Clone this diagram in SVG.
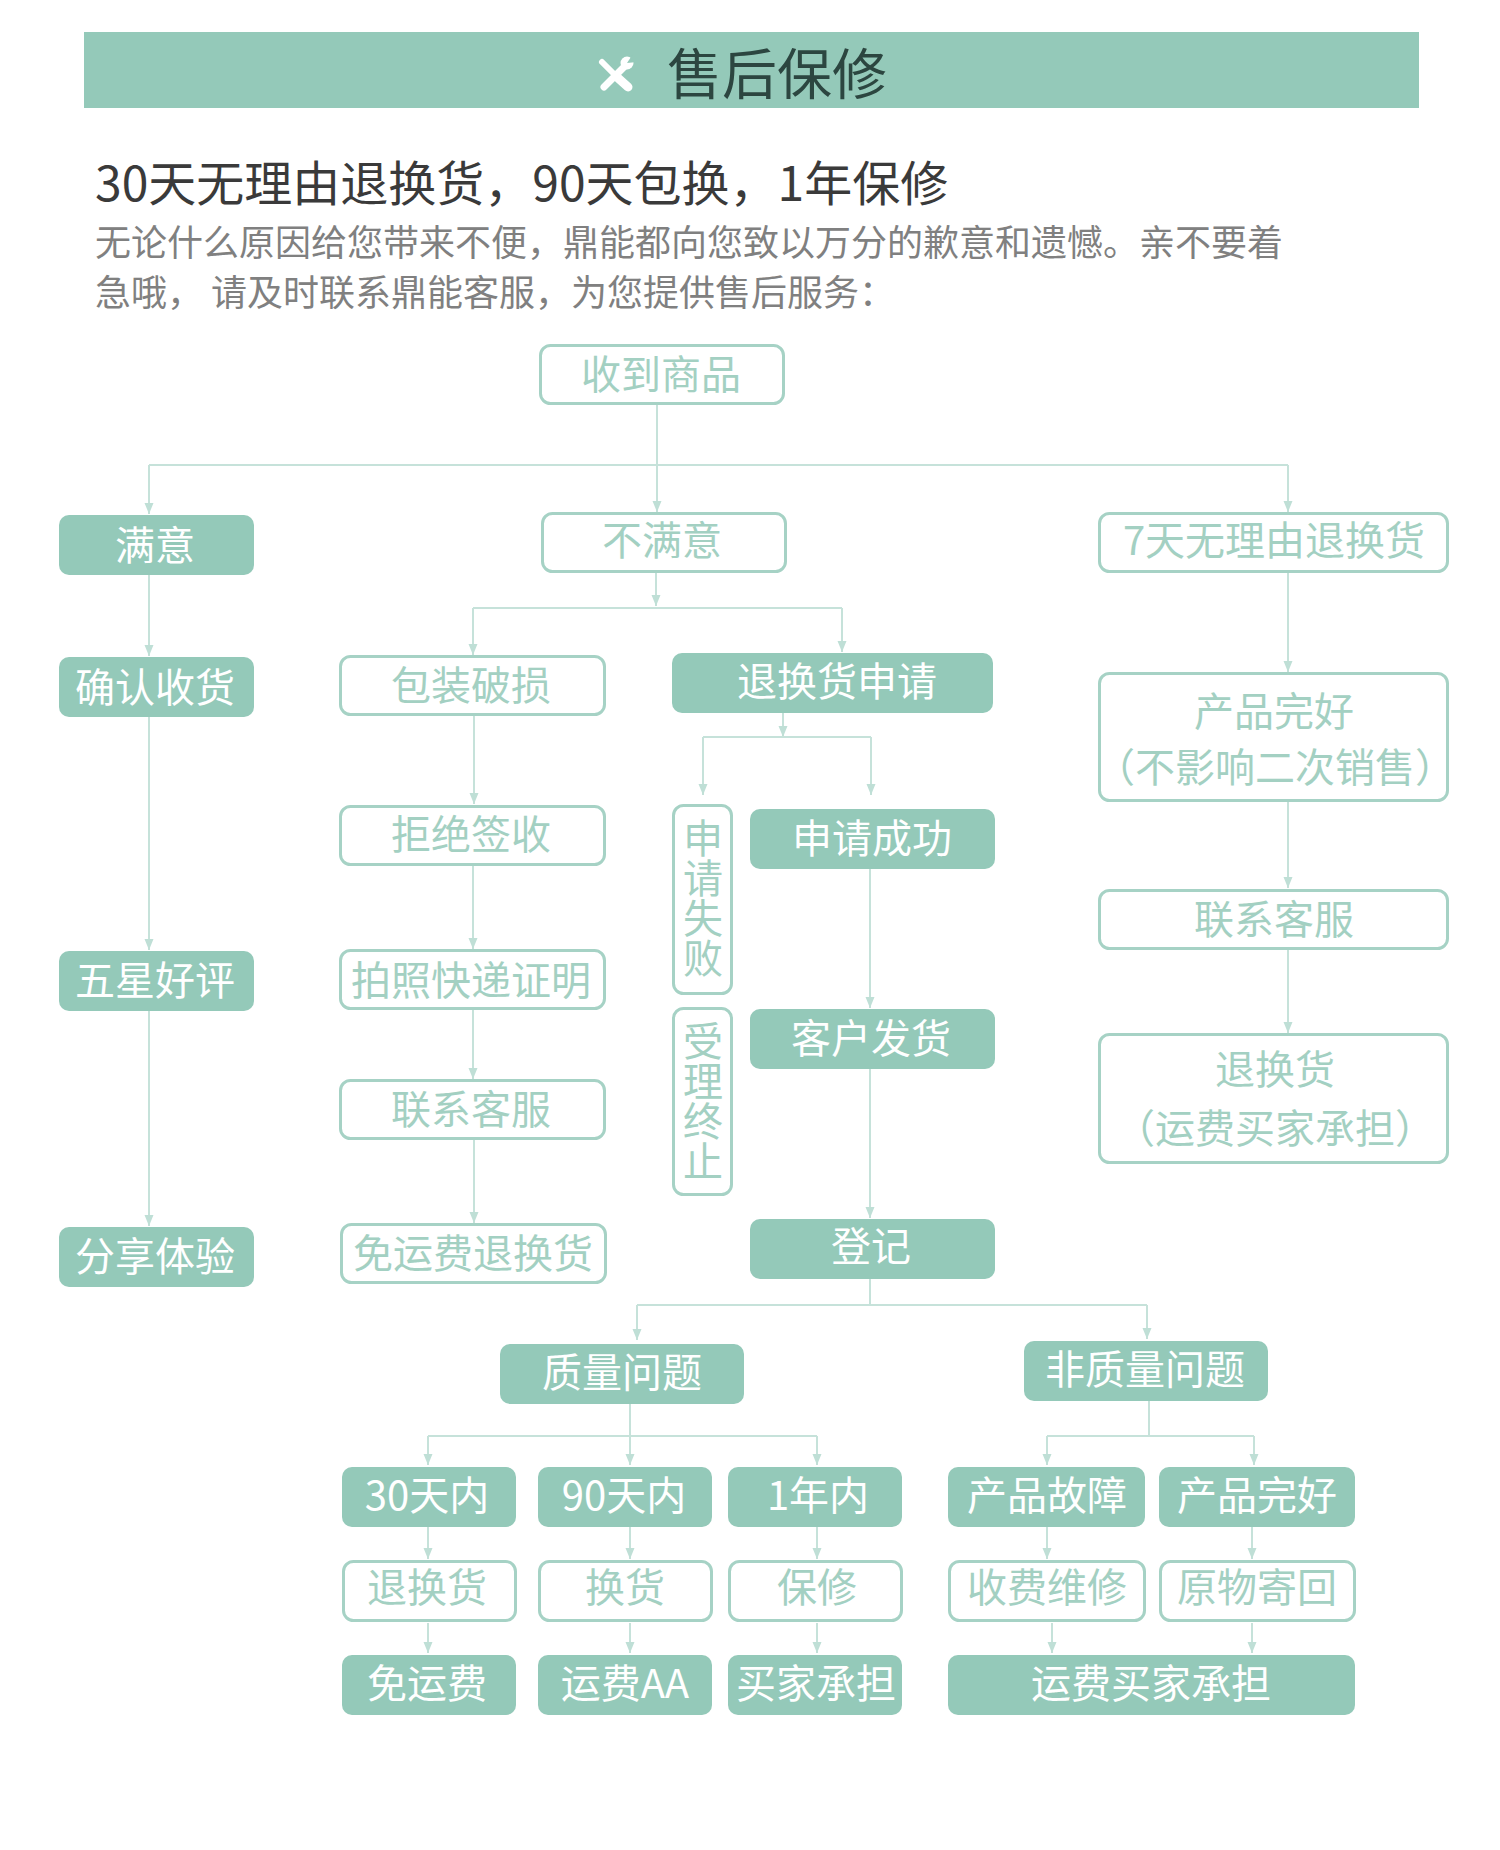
<svg xmlns="http://www.w3.org/2000/svg" width="1500" height="1850" viewBox="0 0 1500 1850">
<style>
text{font-family:"Noto Sans CJK SC","Noto Sans",sans-serif;text-anchor:middle;dominant-baseline:central}
.f{fill:#94c9b9}
.o{fill:#fff;stroke:#a6d2c5;stroke-width:3}
.tf{font-size:40px;fill:#fff;transform:translateY(-2px)}
.to{font-size:40px;fill:#a3d0c2;transform:translateY(-2px)}
.v{writing-mode:vertical-rl;transform:none}
.c{fill:none;stroke:#c6e2da;stroke-width:2}
.a{marker-end:url(#arr)}
.l{text-anchor:start;dominant-baseline:auto}
</style>
<defs>
<marker id="arr" markerUnits="userSpaceOnUse" markerWidth="11" markerHeight="10" refX="11" refY="5" orient="auto" viewBox="0 0 11 10"><path d="M0 0.500L11 5L0 9.500Z" fill="#bfdfd6"/></marker>
</defs>
<rect width="1500" height="1850" fill="#fff"/>
<g id="banner">
<rect x="84" y="32" width="1335" height="76" fill="#94c9b9"/>
<g fill="none" stroke="#fff" stroke-linecap="round">
<path d="M602 62L616 76" stroke-width="6"/>
<path d="M618 78L628 87" stroke-width="9"/>
<path d="M604 87L625 66" stroke-width="7"/>
</g>
<circle cx="627" cy="63" r="6.500" fill="#fff"/>
<path d="M627 63L633 54L637 62Z" fill="#94c9b9"/>
<text x="777" y="70" font-size="55" fill="#2c4640">售后保修</text>
</g>
<g id="intro">
<text class="l" x="95" y="201" font-size="48" fill="#3a3a3a">30天无理由退换货，90天包换，1年保修</text>
<text class="l" x="95" y="256" font-size="36" fill="#808080">无论什么原因给您带来不便，鼎能都向您致以万分的歉意和遗憾。亲不要着</text>
<text class="l" x="95" y="306" font-size="36" fill="#808080" xml:space="preserve">急哦， 请及时联系鼎能客服，为您提供售后服务：</text>
</g>
<g id="connectors">
<path class="c" d="M657 403V465M149 465H1288"/>
<path class="c a" d="M149 465V514"/>
<path class="c a" d="M657 465V512"/>
<path class="c a" d="M1288 465V512"/>
<path class="c a" d="M149 575V656"/>
<path class="c a" d="M149 716V950"/>
<path class="c a" d="M149 1011V1226"/>
<path class="c a" d="M656 572V606"/>
<path class="c" d="M473 608H842"/>
<path class="c a" d="M473 608V655"/>
<path class="c a" d="M842 608V652"/>
<path class="c a" d="M474 714V804"/>
<path class="c a" d="M473 864V949"/>
<path class="c a" d="M473 1009V1079"/>
<path class="c a" d="M474 1138V1223"/>
<path class="c a" d="M783 713V737"/>
<path class="c" d="M703 737H871"/>
<path class="c a" d="M703 737V795"/>
<path class="c a" d="M871 737V795"/>
<path class="c a" d="M870 869V1008"/>
<path class="c a" d="M870 1069V1218"/>
<path class="c" d="M870 1279V1305M637 1305H1147"/>
<path class="c a" d="M637 1305V1340"/>
<path class="c a" d="M1147 1305V1339"/>
<path class="c a" d="M1288 572V672"/>
<path class="c a" d="M1288 800V888"/>
<path class="c a" d="M1288 948V1033"/>
<path class="c" d="M630 1404V1436M428 1436H817"/>
<path class="c a" d="M428 1436V1465"/>
<path class="c a" d="M630 1436V1465"/>
<path class="c a" d="M817 1436V1465"/>
<path class="c a" d="M428 1527V1559"/>
<path class="c a" d="M630 1527V1559"/>
<path class="c a" d="M817 1527V1559"/>
<path class="c a" d="M428 1623V1653"/>
<path class="c a" d="M630 1623V1653"/>
<path class="c a" d="M817 1623V1653"/>
<path class="c" d="M1149 1401V1436M1047 1436H1254"/>
<path class="c a" d="M1047 1436V1465"/>
<path class="c a" d="M1254 1436V1465"/>
<path class="c a" d="M1047 1527V1559"/>
<path class="c a" d="M1252 1527V1559"/>
<path class="c a" d="M1052 1623V1653"/>
<path class="c a" d="M1252 1623V1653"/>
</g>
<g id="n1"><rect class="o" x="540.500" y="345.500" width="243" height="58" rx="10"/><text class="to" x="661" y="374">收到商品</text></g>
<g id="n2"><rect class="f" x="59" y="515" width="195" height="60" rx="10"/><text class="tf" x="155" y="545">满意</text></g>
<g id="n3"><rect class="o" x="542.500" y="513.500" width="243" height="58" rx="10"/><text class="to" x="662" y="540">不满意</text></g>
<g id="n4"><rect class="o" x="1099.500" y="513.500" width="348" height="58" rx="10"/><text class="to" x="1274" y="540">7天无理由退换货</text></g>
<g id="n5"><rect class="f" x="59" y="657" width="195" height="60" rx="10"/><text class="tf" x="155" y="687">确认收货</text></g>
<g id="n6"><rect class="o" x="340.500" y="656.500" width="264" height="58" rx="10"/><text class="to" x="471" y="685">包装破损</text></g>
<g id="n7"><rect class="f" x="672" y="653" width="321" height="60" rx="10"/><text class="tf" x="837" y="681">退换货申请</text></g>
<g id="n8"><rect class="o" x="1099.500" y="673.500" width="348" height="127" rx="10"/><text class="to" x="1274" y="711">产品完好</text><text class="to" x="1275" y="767">（不影响二次销售）</text></g>
<g id="n9"><rect class="o" x="340.500" y="806.500" width="264" height="58" rx="10"/><text class="to" x="471" y="834">拒绝签收</text></g>
<g id="n10"><rect class="o" x="673.500" y="805.500" width="58" height="188" rx="10"/><text class="to v" x="703" y="898">申请失败</text></g>
<g id="n11"><rect class="f" x="750" y="809" width="245" height="60" rx="10"/><text class="tf" x="872" y="838">申请成功</text></g>
<g id="n12"><rect class="f" x="59" y="951" width="195" height="60" rx="10"/><text class="tf" x="155" y="980">五星好评</text></g>
<g id="n13"><rect class="o" x="340.500" y="950.500" width="264" height="58" rx="10"/><text class="to" x="471" y="980">拍照快递证明</text></g>
<g id="n14"><rect class="o" x="673.500" y="1008.500" width="58" height="186" rx="10"/><text class="to v" x="703" y="1101">受理终止</text></g>
<g id="n15"><rect class="f" x="750" y="1009" width="245" height="60" rx="10"/><text class="tf" x="871" y="1038">客户发货</text></g>
<g id="n16"><rect class="o" x="1099.500" y="890.500" width="348" height="58" rx="10"/><text class="to" x="1274" y="919">联系客服</text></g>
<g id="n17"><rect class="o" x="340.500" y="1080.500" width="264" height="58" rx="10"/><text class="to" x="471" y="1109">联系客服</text></g>
<g id="n18"><rect class="o" x="1099.500" y="1034.500" width="348" height="128" rx="10"/><text class="to" x="1275" y="1069">退换货</text><text class="to" x="1275" y="1128">（运费买家承担）</text></g>
<g id="n19"><rect class="f" x="59" y="1227" width="195" height="60" rx="10"/><text class="tf" x="155" y="1256">分享体验</text></g>
<g id="n20"><rect class="o" x="341.500" y="1224.500" width="264" height="58" rx="10"/><text class="to" x="473" y="1253">免运费退换货</text></g>
<g id="n21"><rect class="f" x="750" y="1219" width="245" height="60" rx="10"/><text class="tf" x="871" y="1246">登记</text></g>
<g id="n22"><rect class="f" x="500" y="1344" width="244" height="60" rx="10"/><text class="tf" x="622" y="1372">质量问题</text></g>
<g id="n23"><rect class="f" x="1024" y="1341" width="244" height="60" rx="10"/><text class="tf" x="1145" y="1369">非质量问题</text></g>
<g id="n24"><rect class="f" x="342" y="1467" width="174" height="60" rx="10"/><text class="tf" x="427" y="1495">30天内</text></g>
<g id="n25"><rect class="f" x="538" y="1467" width="174" height="60" rx="10"/><text class="tf" x="624" y="1495">90天内</text></g>
<g id="n26"><rect class="f" x="728" y="1467" width="174" height="60" rx="10"/><text class="tf" x="818" y="1495">1年内</text></g>
<g id="n27"><rect class="f" x="948" y="1467" width="197" height="60" rx="10"/><text class="tf" x="1047" y="1495">产品故障</text></g>
<g id="n28"><rect class="f" x="1159" y="1467" width="196" height="60" rx="10"/><text class="tf" x="1257" y="1495">产品完好</text></g>
<g id="n29"><rect class="o" x="343.500" y="1561.500" width="172" height="59" rx="10"/><text class="to" x="427" y="1587">退换货</text></g>
<g id="n30"><rect class="o" x="539.500" y="1561.500" width="172" height="59" rx="10"/><text class="to" x="625" y="1587">换货</text></g>
<g id="n31"><rect class="o" x="729.500" y="1561.500" width="172" height="59" rx="10"/><text class="to" x="817" y="1587">保修</text></g>
<g id="n32"><rect class="o" x="949.500" y="1561.500" width="195" height="59" rx="10"/><text class="to" x="1047" y="1587">收费维修</text></g>
<g id="n33"><rect class="o" x="1160.500" y="1561.500" width="194" height="59" rx="10"/><text class="to" x="1257" y="1587">原物寄回</text></g>
<g id="n34"><rect class="f" x="342" y="1655" width="174" height="60" rx="10"/><text class="tf" x="427" y="1683">免运费</text></g>
<g id="n35"><rect class="f" x="538" y="1655" width="174" height="60" rx="10"/><text class="tf" x="625" y="1683">运费AA</text></g>
<g id="n36"><rect class="f" x="728" y="1655" width="174" height="60" rx="10"/><text class="tf" x="816" y="1683">买家承担</text></g>
<g id="n37"><rect class="f" x="948" y="1655" width="407" height="60" rx="10"/><text class="tf" x="1151" y="1683">运费买家承担</text></g>
</svg>
